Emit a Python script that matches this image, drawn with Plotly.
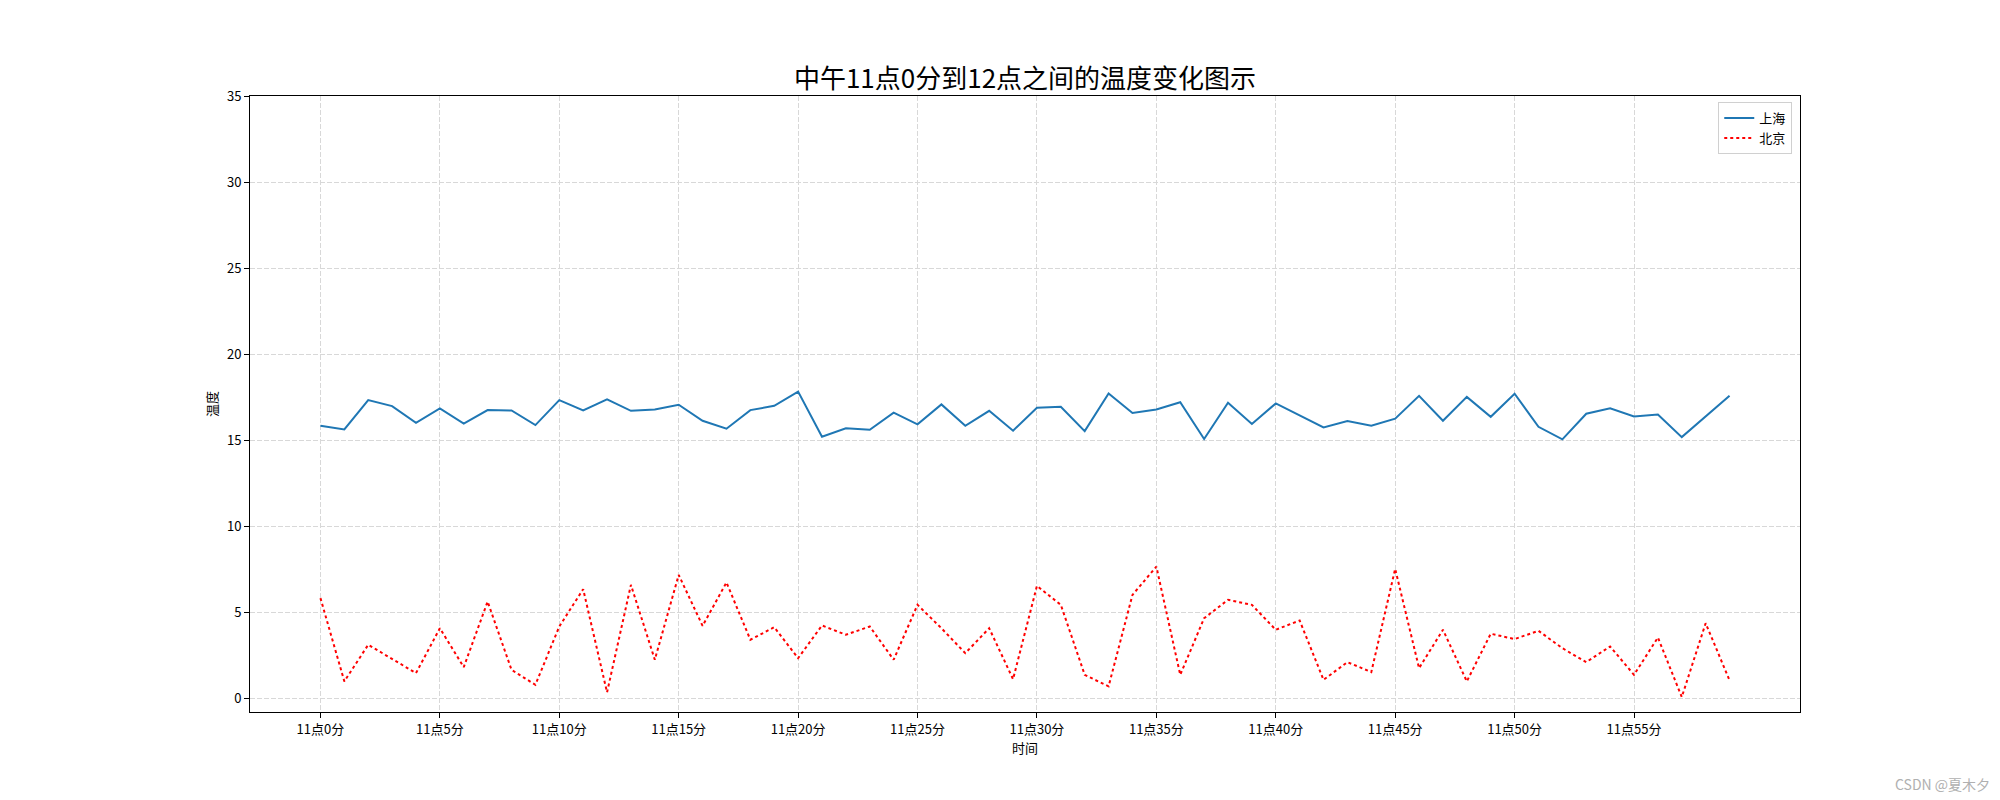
import plotly.graph_objects as go

minutes = list(range(60))
shanghai = [15.83, 15.62, 17.32, 16.97, 16.0, 16.84, 15.95, 16.74, 16.72, 15.87,
            17.32, 16.72, 17.36, 16.70, 16.78, 17.05, 16.12, 15.66, 16.74, 16.99,
            17.82, 15.19, 15.68, 15.60, 16.59, 15.91, 17.07, 15.83, 16.70, 15.54,
            16.88, 16.93, 15.52, 17.71, 16.57, 16.78, 17.20, 15.06, 17.17, 15.93,
            17.13, 16.45, 15.73, 16.10, 15.83, 16.24, 17.57, 16.12, 17.51, 16.35,
            17.69, 15.77, 15.04, 16.53, 16.84, 16.37, 16.49, 15.17, 16.35, 17.57]
beijing = [5.81, 0.97, 3.10, 2.26, 1.45, 4.06, 1.80, 5.61, 1.64, 0.77,
           4.16, 6.33, 0.33, 6.58, 2.23, 7.16, 4.20, 6.72, 3.39, 4.12,
           2.32, 4.22, 3.68, 4.16, 2.23, 5.42, 4.06, 2.61, 4.06, 1.10,
           6.52, 5.42, 1.35, 0.68, 6.00, 7.64, 1.35, 4.64, 5.71, 5.42,
           3.97, 4.51, 1.06, 2.09, 1.51, 7.51, 1.74, 3.97, 0.97, 3.74,
           3.43, 3.91, 2.90, 2.09, 3.00, 1.35, 3.52, 0.06, 4.35, 1.03]
xtick_vals = list(range(0, 60, 5))
xtick_text = ["11点{}分".format(m) for m in xtick_vals]
ytick_vals = list(range(0, 40, 5))

FONT = "Noto Sans CJK SC"

fig = go.Figure()
fig.add_trace(go.Scatter(x=minutes, y=shanghai, mode="lines", name="上海",
                         line=dict(color="#1f77b4", width=2)))
fig.add_trace(go.Scatter(x=minutes, y=beijing, mode="lines", name="北京",
                         line=dict(color="red", width=2, dash="dot")))

axis_common = dict(showline=True, linecolor="black", linewidth=1, mirror=True,
                   ticks="outside", ticklen=5, tickcolor="black",
                   showgrid=True, gridcolor="#d8d8d8", griddash="5px,2px", gridwidth=1,
                   zeroline=False, tickfont=dict(family=FONT, size=13, color="black"))

fig.update_layout(
    width=2000, height=800,
    margin=dict(l=250, r=200, t=96, b=88),
    plot_bgcolor="white", paper_bgcolor="white",
    title=dict(text="中午11点0分到12点之间的温度变化图示", x=0.5125, xanchor="center",
               y=0.902, yanchor="middle", font=dict(family=FONT, size=26, color="black")),
    xaxis=dict(range=[-2.95, 61.95], tickvals=xtick_vals, ticktext=xtick_text,
               title=dict(text="时间", font=dict(family=FONT, size=13, color="black"), standoff=4),
               **axis_common),
    yaxis=dict(range=[-0.81, 35], tickvals=ytick_vals,
               title=dict(text="温度", font=dict(family=FONT, size=13, color="black"), standoff=6),
               **axis_common),
    legend=dict(x=0.995, y=0.99, xanchor="right", yanchor="top",
                bgcolor="white", bordercolor="#d0d0d0", borderwidth=1,
                font=dict(family=FONT, size=13, color="black")),
    showlegend=True,
)
fig.add_annotation(text="CSDN @夏木夕", xref="paper", yref="paper", x=1.124, y=-0.117,
                   xanchor="right", yanchor="middle", showarrow=False,
                   font=dict(family=FONT, size=14, color="#b0b0b0"))

fig.write_html("out.html")
